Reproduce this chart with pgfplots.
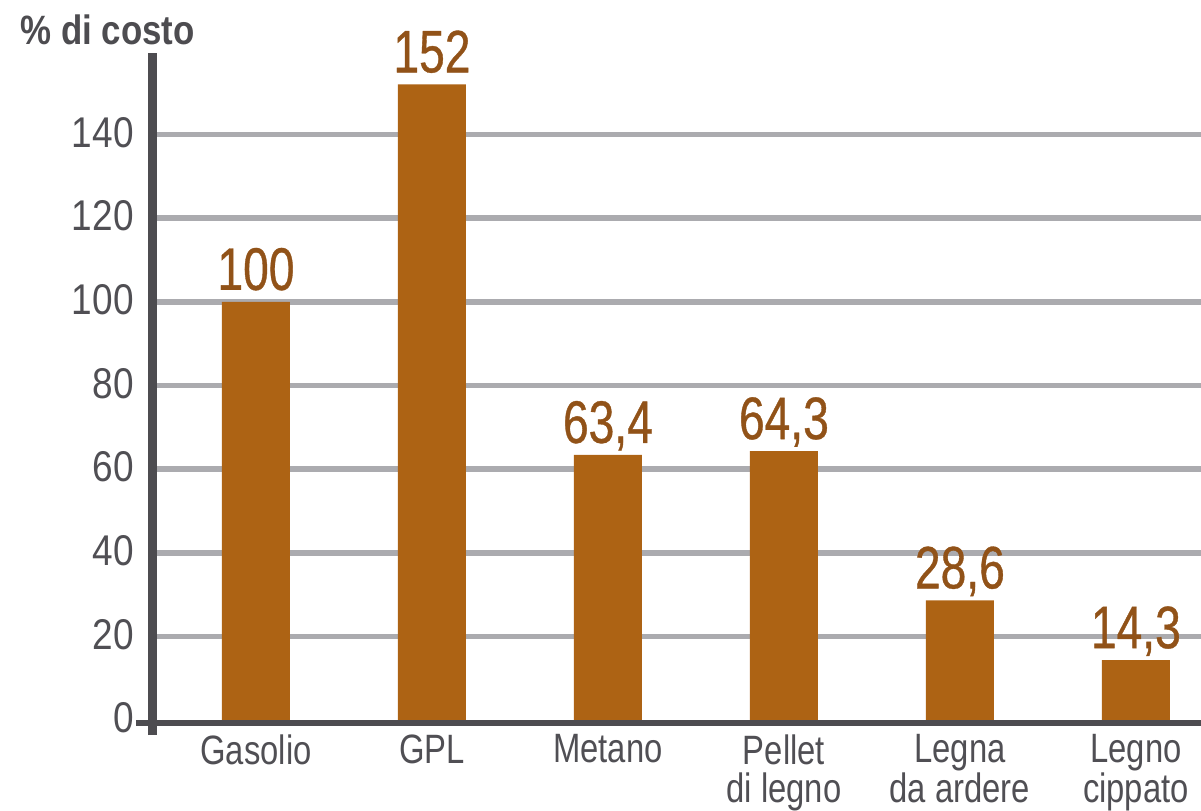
\documentclass[border=0pt]{standalone}
\usepackage{fontspec}
\setmainfont{Liberation Sans}[FakeStretch=0.8]
\newfontfamily\tickfont{Liberation Sans}[FakeStretch=0.86]
\newfontfamily\valfont{Liberation Sans}[FakeStretch=0.77,FakeBold=0.6]
\newfontfamily\titlefont{Liberation Sans}[FakeStretch=0.85]
\usepackage{pgfplots}
\pgfplotsset{compat=1.18}
\definecolor{barc}{RGB}{173,99,20}
\definecolor{valc}{RGB}{145,82,24}
\definecolor{axc}{RGB}{77,76,80}
\definecolor{gridc}{RGB}{171,171,175}
\definecolor{tickc}{RGB}{80,79,84}
\begin{document}
\begin{tikzpicture}
\path[use as bounding box] (-76.25pt,-45pt) rectangle (524.25pt,360pt);
\clip (-76.25pt,-45pt) rectangle (524.25pt,360pt);
\begin{axis}[
  scale only axis, width=524.25pt, height=333.5pt,
  at={(0pt,0pt)}, anchor=south west,
  xmin=-0.588, xmax=5.37, ymin=0, ymax=159.5,
  axis line style={draw=none},
  ybar, bar width=34pt,
  xtick={0,...,5},
  xticklabels={Gasolio, GPL, Metano, {Pellet\\di legno}, {Legna\\da ardere}, {Legno\\cippato}},
  ytick={20,40,...,140}, extra y ticks={0}, extra y tick style={grid=none},
  ymajorgrids, major grid style={line width=2.8pt, color=gridc},
  major tick length=0pt, tick style={draw=none},
  /pgf/number format/assume math mode=true,
  yticklabel style={font=\tickfont\fontsize{21.5}{21.5}\selectfont, color=tickc, anchor=east, inner sep=0pt, xshift=-9.25pt, yshift=1pt},
  xticklabel style={font=\fontsize{20.5}{19}\selectfont, color=tickc, anchor=north, inner sep=0pt, yshift=-7pt, align=center},
  nodes near coords, point meta=explicit symbolic,
  every node near coord/.append style={font=\valfont\fontsize{30}{30}\selectfont, color=valc, anchor=base, inner sep=0pt, yshift=6pt},
  clip=false,
]
\addplot[fill=barc, draw=none] coordinates {(0,100) [100] (1,152) [152] (2,63.4) [{63,4}] (3,64.3) [{64,3}] (4,28.6) [{28,6}] (5,14.3) [{14,3}]};
\draw[axc, line width=3pt] ([xshift=-8.25pt,yshift=-1.5pt]rel axis cs:0,0) -- ([yshift=-1.5pt]rel axis cs:1,0);
\draw[axc, line width=4.5pt] ([yshift=-7.5pt]rel axis cs:0,0) -- (rel axis cs:0,1);
\end{axis}
\node[anchor=base west, font=\titlefont\bfseries\fontsize{20.5}{20.5}\selectfont, color=axc, inner sep=0pt] at (-66.25pt,337.5pt) {\% di costo};
\end{tikzpicture}
\end{document}
